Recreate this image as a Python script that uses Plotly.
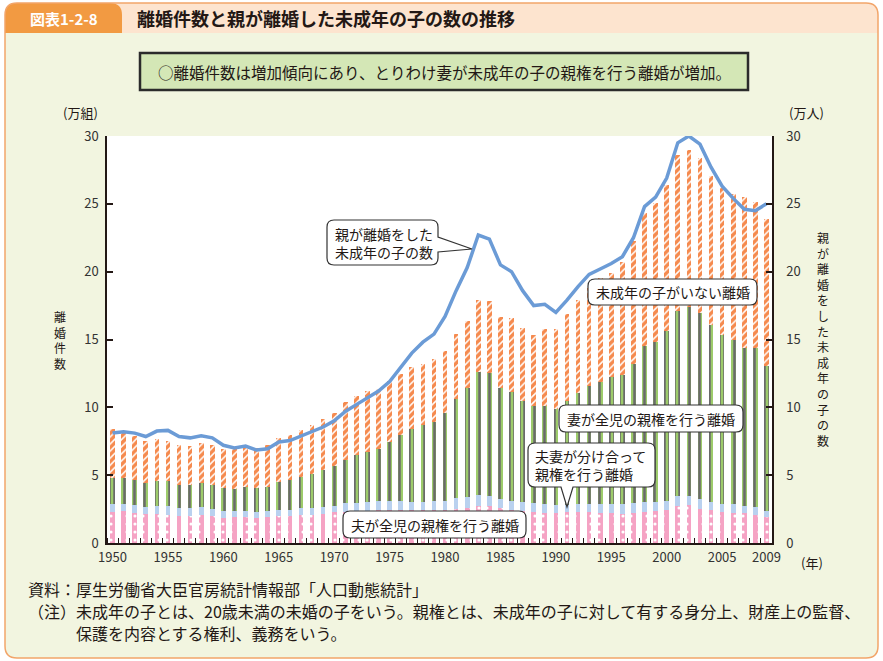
import plotly.graph_objects as go

W, H = 883, 661
FONT = "Noto Sans CJK JP"

years = list(range(1950, 2010))

# 離婚件数（万組）の内訳
husband_all = [2.28, 2.33, 2.20, 2.13, 2.13, 2.05, 1.98, 1.98, 2.05, 1.98,
               1.83, 1.91, 1.91, 1.83, 1.91, 1.98, 1.98, 2.05, 2.05, 2.13,
               2.25, 2.30, 2.30, 2.35, 2.40, 2.40, 2.40, 2.40, 2.40, 2.45,
               2.45, 2.50, 2.60, 2.70, 2.70, 2.55, 2.45, 2.35, 2.25, 2.20,
               2.20, 2.25, 2.25, 2.25, 2.20, 2.20, 2.15, 2.20, 2.32, 2.37,
               2.44, 2.74, 2.79, 2.54, 2.40, 2.25, 2.20, 2.20, 2.08, 1.90]
shared = [0.59, 0.54, 0.60, 0.54, 0.59, 0.67, 0.59, 0.59, 0.60, 0.54,
          0.55, 0.47, 0.47, 0.45, 0.47, 0.47, 0.47, 0.52, 0.52, 0.52,
          0.47, 0.65, 0.65, 0.65, 0.67, 0.67, 0.69, 0.64, 0.64, 0.64,
          0.64, 0.82, 0.79, 0.84, 0.77, 0.70, 0.64, 0.69, 0.67, 0.67,
          0.61, 0.56, 0.64, 0.64, 0.66, 0.66, 0.74, 0.74, 0.68, 0.63,
          0.66, 0.69, 0.66, 0.69, 0.63, 0.64, 0.64, 0.56, 0.54, 0.47]
wife_all = [1.91, 1.91, 1.83, 1.74, 1.83, 1.83, 1.69, 1.69, 1.76, 1.74,
            1.65, 1.58, 1.73, 1.75, 1.73, 2.03, 2.18, 2.28, 2.48, 2.72,
            2.94, 3.16, 3.54, 3.71, 3.86, 4.38, 4.88, 5.38, 5.67, 5.85,
            6.51, 7.32, 8.00, 9.03, 9.03, 8.14, 8.07, 7.46, 7.15, 7.23,
            7.09, 7.69, 8.20, 8.69, 9.04, 9.34, 9.51, 10.26, 11.50, 11.85,
            12.56, 13.67, 13.91, 13.76, 13.06, 12.45, 12.14, 11.65, 11.72, 10.71]
no_children = [3.59, 3.45, 3.27, 3.12, 3.13, 2.98, 2.94, 2.91, 2.99, 2.99,
               2.91, 2.97, 3.03, 2.97, 3.12, 3.24, 3.31, 3.50, 3.68, 3.76,
               3.93, 4.25, 4.35, 4.48, 4.43, 4.46, 4.48, 4.53, 4.50, 4.59,
               4.57, 4.78, 5.01, 5.35, 5.37, 5.27, 5.45, 5.32, 5.29, 5.68,
               5.86, 6.40, 6.83, 7.25, 7.61, 7.70, 8.30, 9.06, 9.82, 10.20,
               10.76, 11.49, 11.62, 11.40, 10.99, 10.85, 10.77, 11.07, 10.77, 10.82]
# 親が離婚をした未成年の子の数（万人）
children = [8.1, 8.2, 8.1, 7.85, 8.25, 8.3, 7.85, 7.75, 7.9, 7.75,
            7.2, 7.0, 7.15, 6.85, 6.95, 7.45, 7.55, 7.9, 8.2, 8.55,
            9.0, 9.7, 10.2, 10.7, 11.2, 11.9, 13.0, 14.0, 14.8, 15.4,
            16.7, 18.6, 20.3, 22.7, 22.4, 20.5, 20.0, 18.6, 17.5, 17.6,
            17.0, 17.9, 18.9, 19.8, 20.2, 20.6, 21.1, 22.5, 24.8, 25.5,
            26.9, 29.5, 30.0, 29.4, 27.7, 26.3, 25.4, 24.6, 24.5, 25.0]

x_tickvals = [1950, 1955, 1960, 1965, 1970, 1975, 1980, 1985, 1990, 1995, 2000, 2005, 2009]
x_ticktext = [str(v) for v in x_tickvals]
y_tickvals = [0, 5, 10, 15, 20, 25, 30]


def fx(x):
    return x / W


def fy(y):
    return 1 - y / H


def P(x, y):
    return f"{fx(x):.5f},{fy(y):.5f}"


def rounded(x0, y0, x1, y1, r, right_wedge=None, bottom_wedge=None):
    s = [f"M{P(x0 + r, y0)}", f"L{P(x1 - r, y0)}", f"Q{P(x1, y0)} {P(x1, y0 + r)}"]
    if right_wedge:
        ya, yb, tx, ty = right_wedge
        s += [f"L{P(x1, ya)}", f"L{P(tx, ty)}", f"L{P(x1, yb)}"]
    s += [f"L{P(x1, y1 - r)}", f"Q{P(x1, y1)} {P(x1 - r, y1)}"]
    if bottom_wedge:
        xr, xl, tx, ty = bottom_wedge
        s += [f"L{P(xr, y1)}", f"L{P(tx, ty)}", f"L{P(xl, y1)}"]
    s += [f"L{P(x0 + r, y1)}", f"Q{P(x0, y1)} {P(x0, y1 - r)}",
          f"L{P(x0, y0 + r)}", f"Q{P(x0, y0)} {P(x0 + r, y0)}", "Z"]
    return " ".join(s)


def top_rounded(x0, y0, x1, y1, r):
    return " ".join([f"M{P(x0, y1)}", f"L{P(x0, y0 + r)}", f"Q{P(x0, y0)} {P(x0 + r, y0)}",
                     f"L{P(x1 - r, y0)}", f"Q{P(x1, y0)} {P(x1, y0 + r)}", f"L{P(x1, y1)}", "Z"])


fig = go.Figure()

BW = 0.42
fig.add_trace(go.Bar(
    x=years, y=husband_all, width=BW, name="夫が全児の親権を行う離婚",
    marker=dict(color="#F5A3C4", line=dict(width=0),
                pattern=dict(shape=".", fgcolor="white", bgcolor="#F5A3C4",
                             size=8, solidity=0.12, fillmode="replace"))))
fig.add_trace(go.Bar(
    x=years, y=shared, width=BW, name="夫妻が分け合って親権を行う離婚",
    marker=dict(color="#B9D1EF", line=dict(width=0))))
fig.add_trace(go.Bar(
    x=years, y=wife_all, width=BW, name="妻が全児の親権を行う離婚",
    marker=dict(color="#9DCB6B", line=dict(width=0),
                pattern=dict(shape="|", fgcolor="#6A6A6A", bgcolor="#9DCB6B",
                             size=5, solidity=0.5, fillmode="replace"))))
fig.add_trace(go.Bar(
    x=years, y=no_children, width=BW, name="未成年の子がいない離婚",
    marker=dict(color="#F58A4E", line=dict(width=0),
                pattern=dict(shape="/", fgcolor="white", bgcolor="#F58A4E",
                             size=5, solidity=0.3, fillmode="replace"))))
fig.add_trace(go.Scatter(
    x=years, y=children, yaxis="y2", mode="lines", name="親が離婚をした未成年の子の数",
    line=dict(color="#6B9BD6", width=3.5)))

AX = "#231815"
fig.update_layout(
    width=W, height=H,
    margin=dict(l=0, r=0, t=0, b=0, autoexpand=False),
    paper_bgcolor="white",
    plot_bgcolor="rgba(0,0,0,0)",
    barmode="stack",
    showlegend=False,
    font=dict(family=FONT, color="#231815"),
    xaxis=dict(domain=[fx(107), fx(772)], range=[1949.5, 2009.5], automargin=False,
               showgrid=False, zeroline=False, showline=True, linecolor=AX, linewidth=1.5,
               tickmode="array", tickvals=x_tickvals, ticktext=x_ticktext, ticks="",
               tickfont=dict(size=13, color="#333"), ticklabelstandoff=2,
               minor=dict(ticks="inside", tick0=1949.5, dtick=1, ticklen=5,
                          tickcolor=AX, tickwidth=1.2)),
    yaxis=dict(domain=[fy(543), fy(136)], range=[0, 30], automargin=False,
               showgrid=False, zeroline=False, showline=True, linecolor=AX, linewidth=1.5,
               tickmode="array", tickvals=y_tickvals, ticks="inside", ticklen=6,
               tickcolor=AX, tickwidth=1.5, tickfont=dict(size=13, color="#333"),
               ticklabelstandoff=4),
    yaxis2=dict(range=[0, 30], overlaying="y", side="right", anchor="x", automargin=False,
                showgrid=False, zeroline=False, showline=True, linecolor=AX, linewidth=1.5,
                tickmode="array", tickvals=y_tickvals, ticks="inside", ticklen=6,
                tickcolor=AX, tickwidth=1.5, tickfont=dict(size=13, color="#333"),
                ticklabelstandoff=10),
)

shapes = []
# outer panel
shapes.append(dict(type="path", xref="paper", yref="paper", layer="below",
                   path=rounded(5, 3, 878, 658, 12), fillcolor="#F2F5E0", line=dict(width=0)))
shapes.append(dict(type="path", xref="paper", yref="paper", layer="below",
                   path=top_rounded(5, 3, 878, 33, 12), fillcolor="#FDE4CF", line=dict(width=0)))
shapes.append(dict(type="path", xref="paper", yref="paper", layer="below",
                   path=top_rounded(5, 3, 122, 33, 12), fillcolor="#F29A42", line=dict(width=0)))
shapes.append(dict(type="path", xref="paper", yref="paper", layer="below",
                   path=rounded(5, 3, 878, 658, 12), fillcolor="rgba(0,0,0,0)",
                   line=dict(color="#F2A56A", width=1.5)))
# summary box
shapes.append(dict(type="rect", xref="paper", yref="paper", layer="below",
                   x0=fx(140), x1=fx(748), y0=fy(90), y1=fy(53),
                   fillcolor="#D4E7B6", line=dict(color="#2B2B2B", width=2.5)))
# plot area background
shapes.append(dict(type="rect", xref="paper", yref="paper", layer="below",
                   x0=fx(107), x1=fx(772), y0=fy(543), y1=fy(136),
                   fillcolor="white", line=dict(width=0)))
# callouts
CL = dict(color="#333", width=1.2)
shapes.append(dict(type="path", xref="paper", yref="paper", layer="above",
                   path=rounded(327, 220, 438, 265, 7, right_wedge=(237, 252, 472, 249)),
                   fillcolor="white", line=CL))
shapes.append(dict(type="path", xref="paper", yref="paper", layer="above",
                   path=rounded(343, 511, 526, 538, 7), fillcolor="white", line=CL))
shapes.append(dict(type="path", xref="paper", yref="paper", layer="above",
                   path=rounded(528, 443, 655, 487, 7, bottom_wedge=(573, 561, 567, 507)),
                   fillcolor="white", line=CL))
shapes.append(dict(type="path", xref="paper", yref="paper", layer="above",
                   path=rounded(559, 405, 743, 432, 7), fillcolor="white", line=CL))
shapes.append(dict(type="path", xref="paper", yref="paper", layer="above",
                   path=rounded(588, 279, 757, 305, 7), fillcolor="white", line=CL))
fig.update_layout(shapes=shapes)

ann = []


def text(x, y, s, size, anchor="left", color="#231815", align="left"):
    ann.append(dict(x=fx(x), y=fy(y), xref="paper", yref="paper", text=s, showarrow=False,
                    xanchor=anchor, yanchor="middle", align=align,
                    font=dict(size=size, color=color, family=FONT)))


text(64, 18, "<b>図表1-2-8</b>", 15, "center", "white")
text(135, 18, "<b>離婚件数と親が離婚した未成年の子の数の推移</b>", 18)
text(444, 72, "○離婚件数は増加傾向にあり、とりわけ妻が未成年の子の親権を行う離婚が増加。", 15.5, "center")
text(80, 112, "(万組)", 13, "center")
text(806, 112, "(万人)", 13, "center")
text(812, 562, "(年)", 13, "center")
text(60, 340, "<br>".join("離婚件数"), 12, "center", align="center")
text(823, 339, "<br>".join("親が離婚をした未成年の子の数"), 12, "center", align="center")
# callout texts
text(333, 243, "親が離婚をした<br>未成年の子の数", 14)
text(434.5, 525, "夫が全児の親権を行う離婚", 14, "center")
text(533, 465, "夫妻が分け合って<br>親権を行う離婚", 14)
text(651, 418.5, "妻が全児の親権を行う離婚", 14, "center")
text(672.5, 292, "未成年の子がいない離婚", 14, "center")
# notes
text(26, 589, "資料：厚生労働省大臣官房統計情報部「人口動態統計」", 16)
text(26, 611, "（注）未成年の子とは、20歳未満の未婚の子をいう。親権とは、未成年の子に対して有する身分上、財産上の監督、", 16)
text(74, 633, "保護を内容とする権利、義務をいう。", 16)
fig.update_layout(annotations=ann)

fig.write_html("out.html", config={"displayModeBar": False},
               post_script="document.body.style.margin='0';document.body.style.padding='0';")
